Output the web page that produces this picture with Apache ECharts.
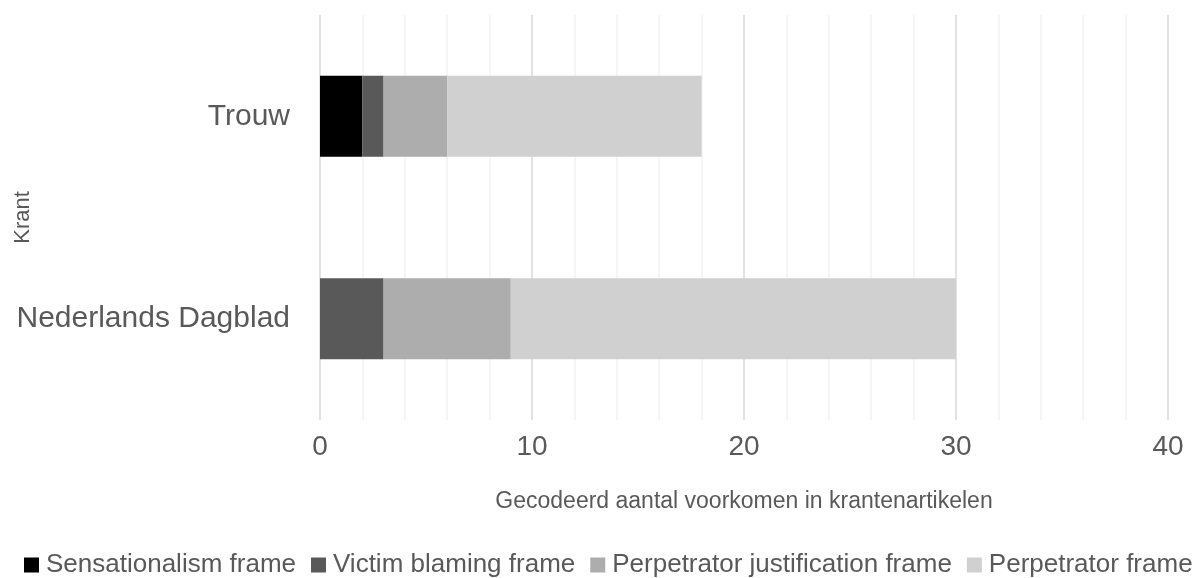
<!DOCTYPE html>
<html>
<head>
<meta charset="utf-8">
<script src="https://cdn.jsdelivr.net/npm/echarts@6/dist/echarts.min.js"></script>
<style>
html,body{margin:0;padding:0;background:#fff;}
#chart{width:1195px;height:578px;}
</style>
</head>
<body>
<div id="chart"></div>
<script>
const categories = ["Nederlands Dagblad", "Trouw"];
const seriesNames = ["Sensationalism frame", "Victim blaming frame", "Perpetrator justification frame", "Perpetrator frame"];
const sensationalism = [0, 2];
const victimBlaming = [3, 1];
const perpetratorJustification = [6, 3];
const perpetrator = [21, 12];
const colors = ["#000000", "#595959", "#ADADAD", "#D0D0D0"];
const xTicks = [0, 10, 20, 30, 40];

const FONT = "Liberation Sans";
const values = [sensationalism, victimBlaming, perpetratorJustification, perpetrator];

const chart = echarts.init(document.getElementById('chart'), null, {renderer: 'canvas'});
chart.setOption({
  animation: false,
  textStyle: {fontFamily: FONT},
  grid: {left: 320, right: 27, top: 15, bottom: 158, containLabel: false, outerBoundsMode: 'none'},
  legend: {
    data: seriesNames,
    bottom: 0,
    left: 24,
    padding: 0,
    itemWidth: 15,
    itemHeight: 15,
    itemGap: 15,
    icon: 'rect',
    textStyle: {color: '#595959', fontSize: 26, fontFamily: FONT, padding: [0, 0, 0, 2]}
  },
  xAxis: {
    type: 'value',
    min: xTicks[0],
    max: xTicks[xTicks.length - 1],
    interval: 10,
    name: 'Gecodeerd aantal voorkomen in krantenartikelen',
    nameLocation: 'middle',
    nameGap: 70,
    nameTextStyle: {color: '#595959', fontSize: 23, fontFamily: FONT},
    axisLine: {show: false},
    axisTick: {show: false},
    axisLabel: {color: '#595959', fontSize: 28, margin: 13, fontFamily: FONT},
    splitLine: {show: true, lineStyle: {color: '#D9D9D9', width: 1.5}},
    minorTick: {show: false, splitNumber: 5},
    minorSplitLine: {show: true, lineStyle: {color: '#F2F2F2', width: 1.5}}
  },
  yAxis: {
    type: 'category',
    data: categories,
    name: 'Krant',
    nameLocation: 'middle',
    nameRotate: 90,
    nameGap: 286,
    nameMoveOverlap: false,
    nameTextStyle: {color: '#595959', fontSize: 22, fontFamily: FONT},
    axisLine: {show: false},
    axisTick: {show: false},
    axisLabel: {color: '#595959', fontSize: 30, margin: 30, fontFamily: FONT},
    splitLine: {show: false}
  },
  series: seriesNames.map((n, i) => ({
    name: n,
    type: 'bar',
    stack: 'total',
    barWidth: '40%',
    itemStyle: {color: colors[i]},
    data: values[i]
  }))
});
</script>
</body>
</html>
